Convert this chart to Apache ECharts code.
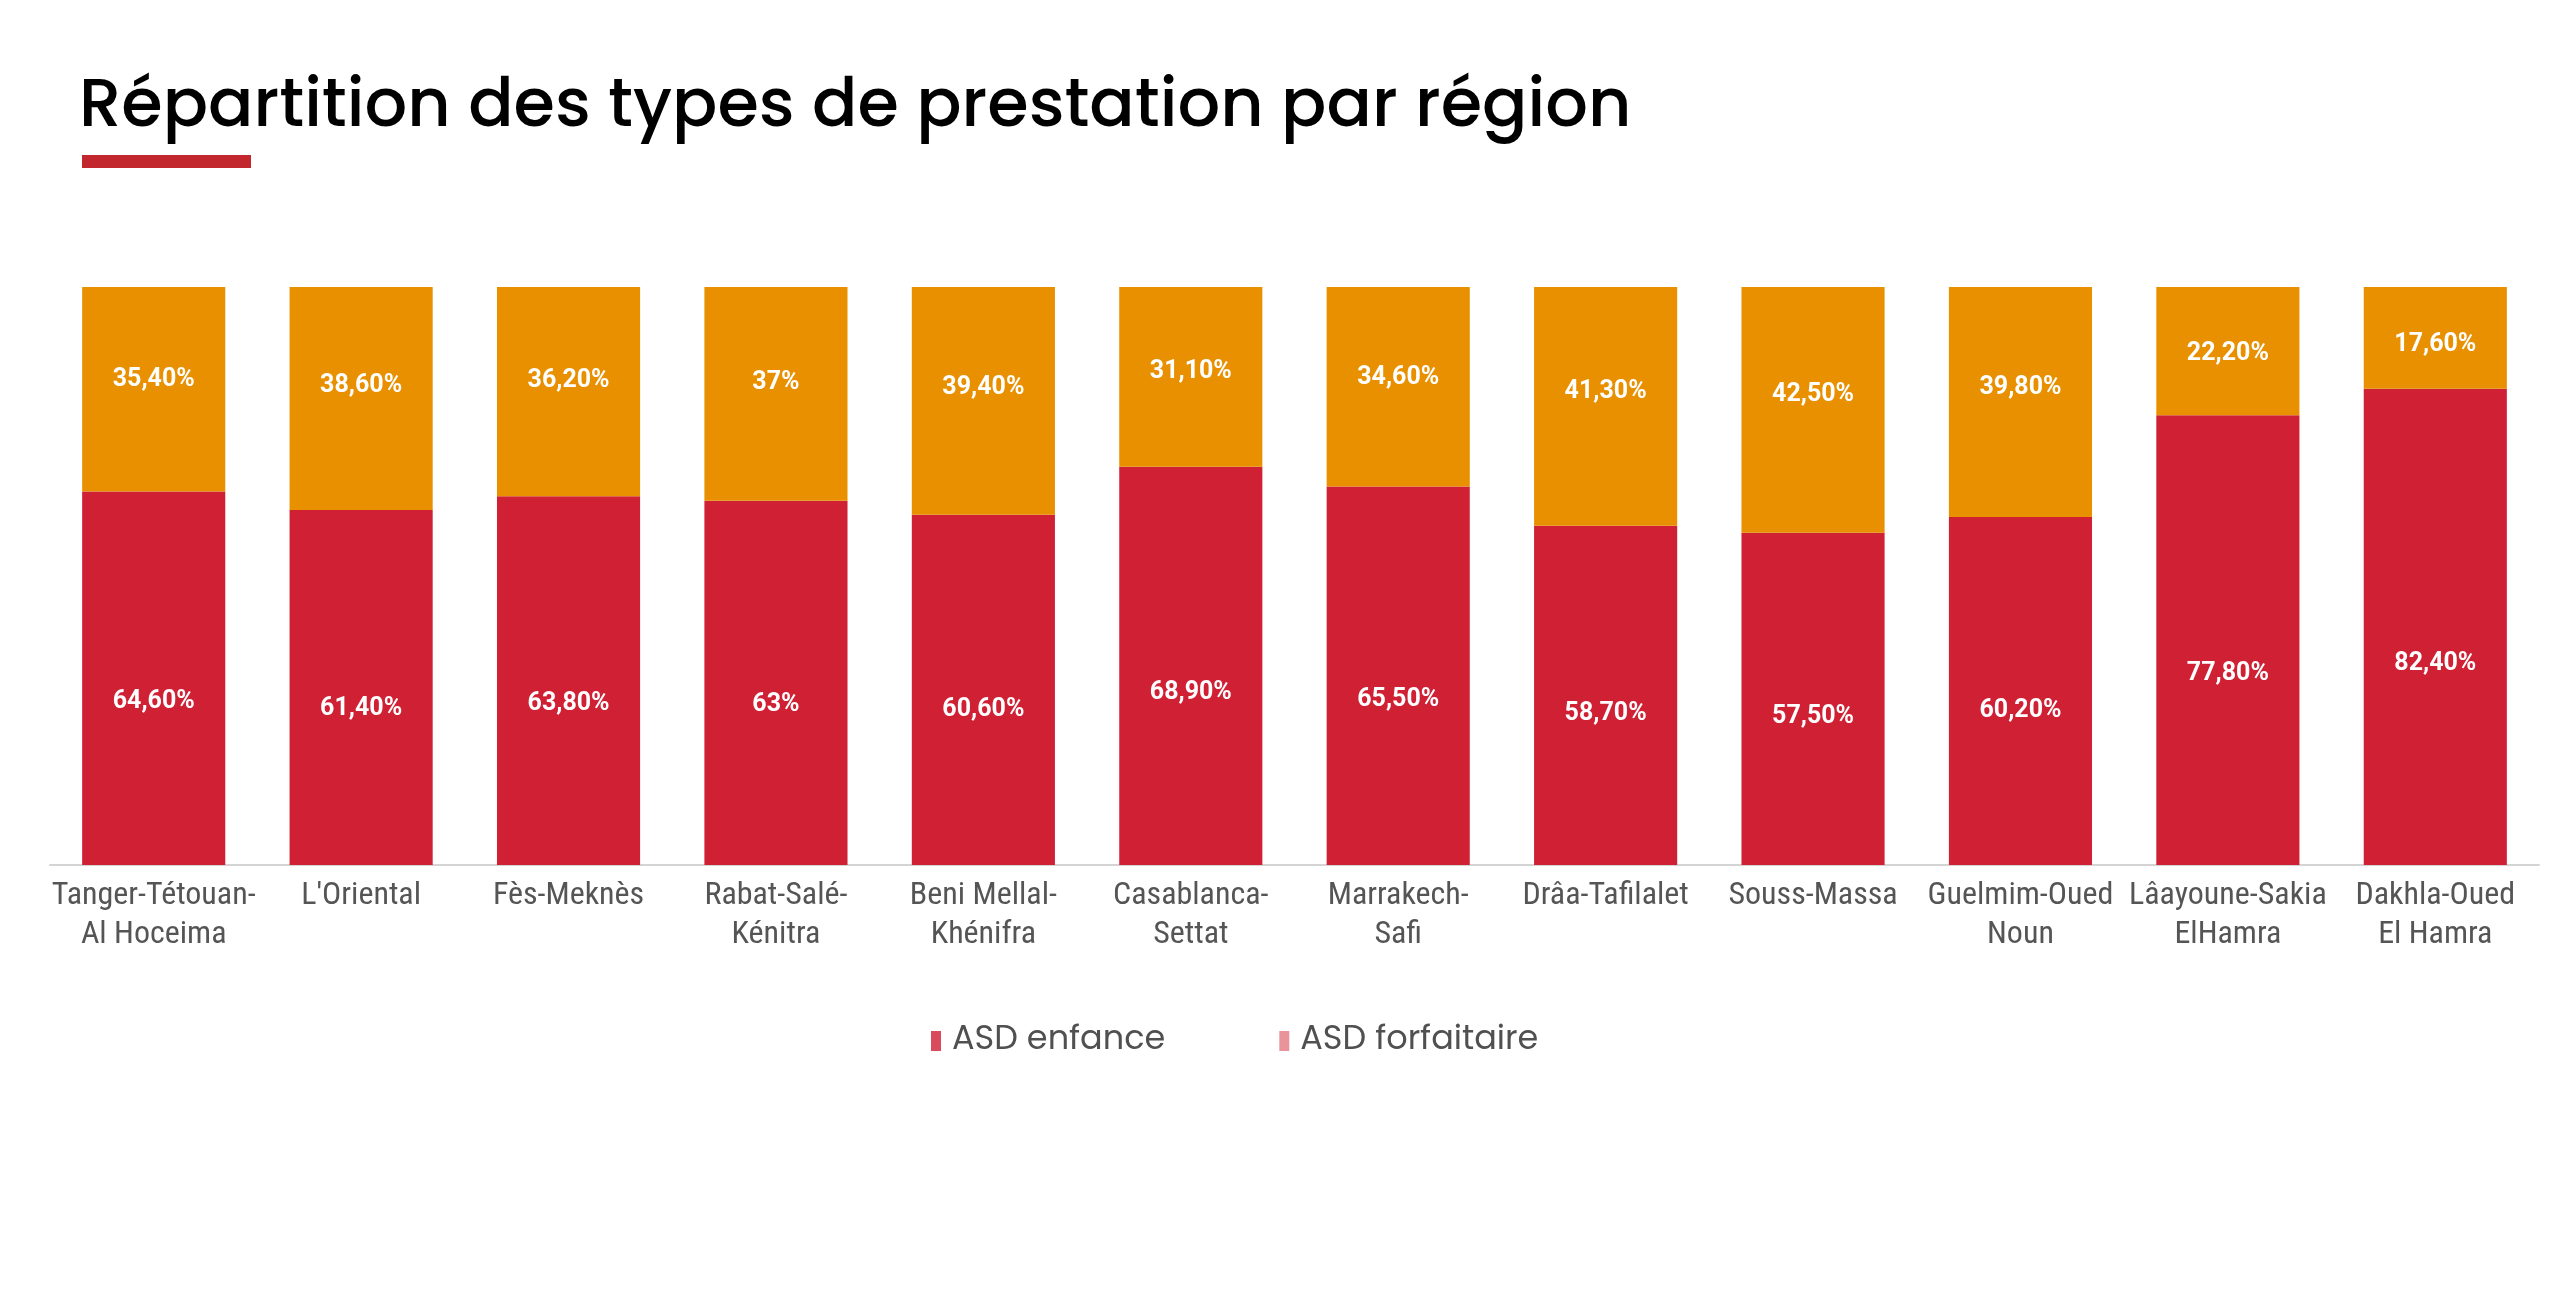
<!DOCTYPE html>
<html>
<head>
<meta charset="utf-8">
<title>Répartition des types de prestation par région</title>
<script src="https://cdn.jsdelivr.net/npm/echarts@6/dist/echarts.min.js"></script>
<style>
  html, body { margin: 0; padding: 0; background: #fff; }
  #chart { width: 2560px; height: 1298px; }
</style>
</head>
<body>
<div id="chart"></div>
<script>
// regions (line breaks as in the reference labels)
var regions = [
  'Tanger-Tétouan-\nAl Hoceima', "L'Oriental", 'Fès-Meknès', 'Rabat-Salé-\nKénitra',
  'Beni Mellal-\nKhénifra', 'Casablanca-\nSettat', 'Marrakech-\nSafi', 'Drâa-Tafilalet',
  'Souss-Massa', 'Guelmim-Oued\nNoun', 'Lâayoune-Sakia\nElHamra', 'Dakhla-Oued\nEl Hamra'
];
var asdEnfance = [64.6, 61.4, 63.8, 63, 60.6, 68.9, 65.5, 58.7, 57.5, 60.2, 77.8, 82.4];
var asdForfaitaire = [35.4, 38.6, 36.2, 37, 39.4, 31.1, 34.6, 41.3, 42.5, 39.8, 22.2, 17.6];

function pct(p) {
  // 64.6 -> "64,60%", 63 -> "63%"
  var v = p.value;
  if (Math.round(v) === v) return v + '%';
  return v.toFixed(2).replace('.', ',') + '%';
}

// labels in the original sit a bit off the segment centre
// (lower in the red part, higher in the orange one)
function redItems(arr) {
  return arr.map(function (v) {
    return { value: v, label: { offset: [0, 0.78 * (v - 38.5) + 3] } };
  });
}
function orangeItems(arr) {
  return arr.map(function (v) {
    return { value: v, label: { offset: [0, Math.max(-15, 24 - 0.95 * v)] } };
  });
}

var labelStyle = {
  show: true,
  position: 'inside',
  formatter: pct,
  color: '#ffffff',
  fontFamily: 'Roboto, sans-serif',
  fontWeight: 'bold',
  fontSize: 25
};

var chart = echarts.init(document.getElementById('chart'));
chart.setOption({
  backgroundColor: '#ffffff',
  animation: false,
  title: {
    text: 'Répartition des types de prestation par région',
    left: 74,
    top: 71,
    textStyle: {
      fontFamily: 'Poppins, "Open Sans", sans-serif',
      fontSize: 67,
      fontWeight: 500,
      color: '#000000'
    }
  },
  graphic: [{
    type: 'rect',
    shape: { x: 82, y: 155, width: 169, height: 13 },
    style: { fill: '#C1272D' }
  }],
  legend: {
    bottom: 235,
    left: 926,
    icon: 'rect',
    itemWidth: 10,
    itemHeight: 20,
    itemGap: 114,
    textStyle: {
      fontFamily: 'Poppins, "Open Sans", sans-serif',
      fontSize: 33.5,
      color: '#505050',
      padding: [0, 0, 0, 6]
    },
    data: [
      { name: 'ASD enfance', itemStyle: { color: '#D94A5C' } },
      { name: 'ASD forfaitaire', itemStyle: { color: '#E8949A' } }
    ]
  },
  grid: {
    left: 50,
    right: 21,
    top: 287,
    bottom: 433
  },
  xAxis: {
    type: 'category',
    data: regions,
    axisTick: { show: false },
    axisLine: { lineStyle: { color: '#d4d4d4', width: 2 } },
    axisLabel: {
      interval: 0,
      margin: 11,
      fontFamily: '"Roboto Condensed", "Liberation Sans Narrow", "DejaVu Sans Condensed", Roboto, sans-serif',
      fontSize: 32,
      lineHeight: 39,
      color: '#555555'
    }
  },
  yAxis: {
    type: 'value',
    min: 0,
    max: 100,
    show: false,
    splitLine: { show: false }
  },
  series: [
    {
      name: 'ASD enfance',
      type: 'bar',
      stack: 'total',
      barCategoryGap: '31%',
      data: redItems(asdEnfance),
      itemStyle: { color: '#CF2034' },
      label: labelStyle
    },
    {
      name: 'ASD forfaitaire',
      type: 'bar',
      stack: 'total',
      data: orangeItems(asdForfaitaire),
      itemStyle: { color: '#E89000' },
      label: labelStyle
    }
  ]
});
</script>
</body>
</html>
